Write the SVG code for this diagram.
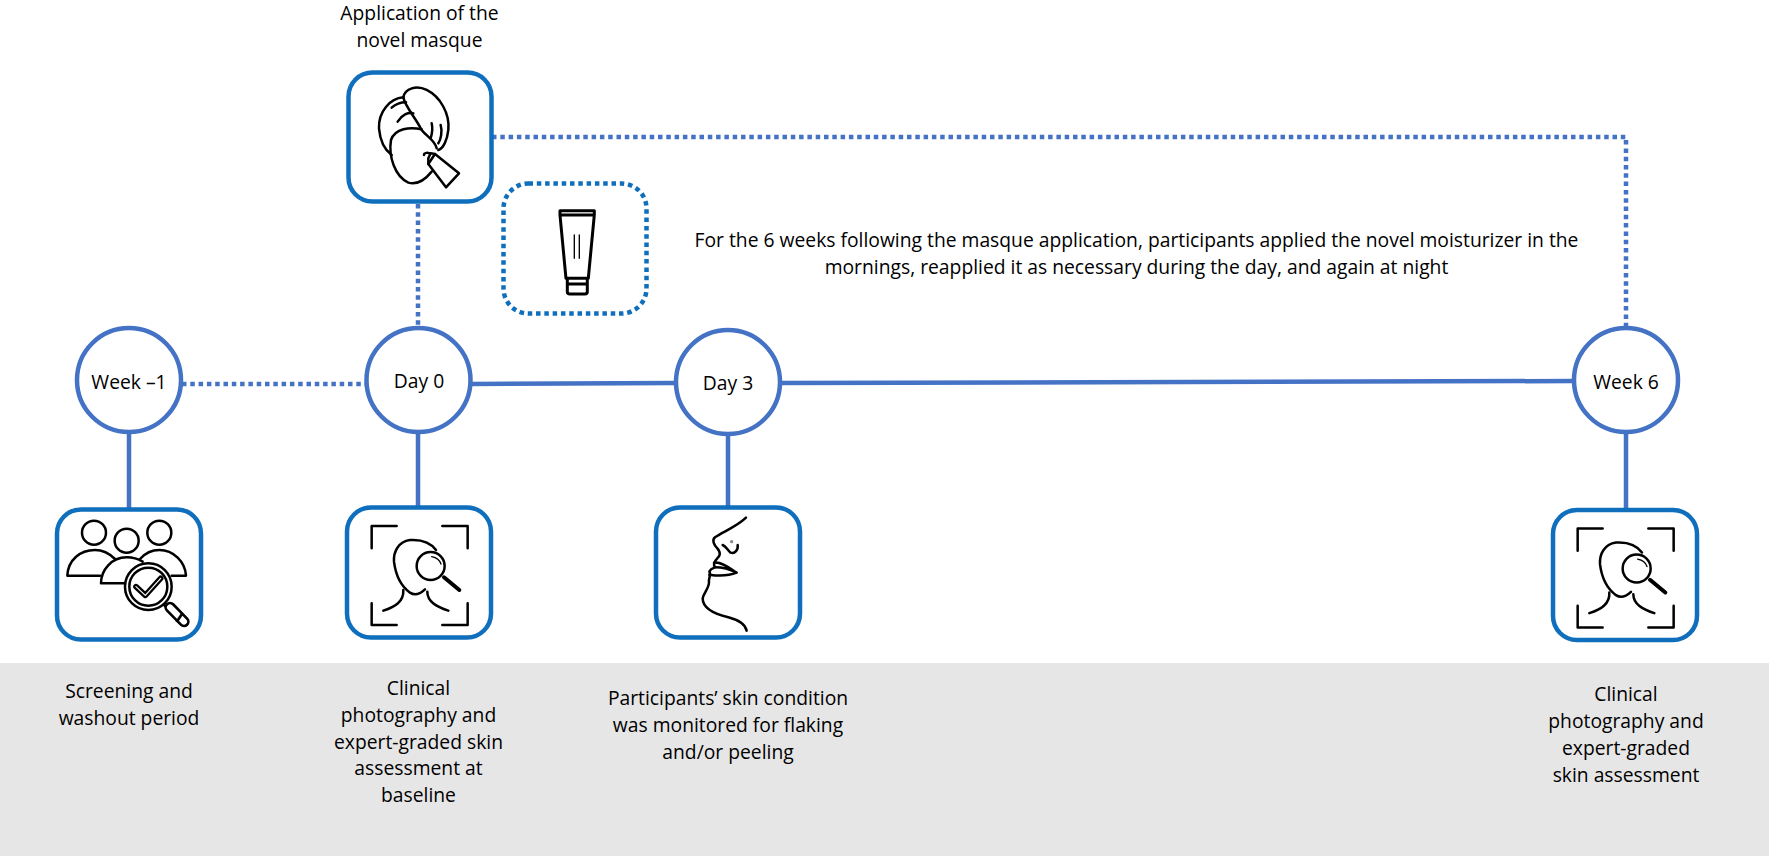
<svg xmlns="http://www.w3.org/2000/svg" xmlns:xlink="http://www.w3.org/1999/xlink" width="1769" height="856" viewBox="0 0 1769 856">
<style>
text{font-family:"Open Sans","Noto Sans","Liberation Sans",sans-serif;font-size:19.3px;fill:#000;text-anchor:middle}
.c{fill:#fff;stroke:#4472c4;stroke-width:4.5}
.b{fill:#fff;stroke:#0f6fbd;stroke-width:4.5}
.s{fill:none;stroke:#4472c4;stroke-width:4.5}
.d{fill:none;stroke:#4472c4;stroke-width:4.5;stroke-dasharray:4.5 3.8}
.i{fill:none;stroke:#000;stroke-width:7.5;stroke-linecap:round;stroke-linejoin:round}
.t{stroke-width:9}
</style>
<defs>
<g id="face-icon">
<path class="i" stroke-linecap="butt" d="M125,175V108H200M337,108H413V175M125,340V405H200M337,405H413V340"/>
<path class="i" d="M318,180C300,155 270,148 240,150C205,155 190,185 192,215C197,255 215,290 240,308C255,318 270,312 285,298"/>
<path class="i" d="M220,300C222,335 195,350 160,362M292,305C292,335 320,350 355,362"/>
<circle class="i" cx="302" cy="228" r="42"/>
<path class="i" style="stroke-width:4" d="M305,200C320,203 330,212 333,222"/>
<path class="i" style="stroke-width:12" d="M342,262L388,300"/>
</g>
</defs>
<rect id="band" x="0" y="663" width="1769" height="193" fill="#e7e6e6"/>
<g id="connectors">
<path class="d" d="M182,384H366"/>
<path class="s" d="M470,384L676,383M780,383L1575,381"/>
<path class="d" d="M418,204V326"/>
<path class="d" d="M492,137H1626V328"/>
<path class="s" d="M129,434V509M418,433V507M728,435V507M1626,433V510"/>
</g>
<g id="node-week-minus-1"><circle class="c" cx="129" cy="380" r="52"/><text x="129" y="389">Week –1</text></g>
<g id="node-day-0"><circle class="c" cx="418.500" cy="380" r="52"/><text x="419" y="388">Day 0</text></g>
<g id="node-day-3"><circle class="c" cx="728" cy="382" r="52"/><text x="728" y="390">Day 3</text></g>
<g id="node-week-6"><circle class="c" cx="1626" cy="380" r="52"/><text x="1626" y="389">Week 6</text></g>
<g id="node-masque">
<rect class="b" x="348.500" y="72.500" width="143" height="129" rx="24"/>
<g transform="translate(320 0) scale(.3333)">
<path class="i" d="M250,292C255,265 290,255 320,270C360,290 390,340 385,390C382,420 370,445 355,450"/>
<path class="i" d="M250,292C210,295 175,335 177,385C180,420 195,450 215,465"/>
<path class="i" d="M250,292C255,320 285,350 305,390C320,410 345,420 350,445"/>
<path class="i" d="M305,388C270,380 225,385 213,420C205,470 225,530 265,548C290,555 315,540 335,515"/>
<path class="i" d="M215,323C230,310 245,307 258,307M233,365C245,345 265,335 280,340M335,370C340,390 335,405 332,415M362,375C368,395 362,420 355,430"/>
<path class="i" fill="#fff" d="M345,462L417,520L378,562L325,492Z"/>
<path class="i" d="M345,462L332,460L325,475L325,492M312,465C312,458 325,456 330,462"/>
</g>
<text x="419.500" y="20">Application of the</text><text x="419.500" y="46.500">novel masque</text>
</g>
<g id="node-moisturizer">
<rect x="503.500" y="183.500" width="143" height="130" rx="25" fill="#fff" stroke="#0f6fbd" stroke-width="4.5" stroke-dasharray="4.500 3.800"/>
<g transform="translate(320 0) scale(.3333)">
<path class="i t" d="M720,632H823V645H720ZM720,645L738,835H805L823,645M742,835V875Q742,882 750,882H795Q802,882 802,875V835M742,852H802"/>
<path class="i" stroke-linecap="butt" style="stroke-width:4" d="M763,705V775M778,705V775"/>
</g>
</g>
<g id="node-screening">
<rect class="b" x="57" y="509.500" width="144" height="130" rx="24"/>
<g transform="translate(40 490) scale(.3333)">
<circle class="i" cx="162" cy="128" r="36"/><circle class="i" cx="260" cy="152" r="36"/><circle class="i" cx="358" cy="128" r="36"/>
<path class="i" d="M225,207C210,192 190,180 165,180C120,180 84,210 82,257H180M300,207C315,190 335,180 358,180C400,180 436,215 438,257H395"/>
<path class="i" d="M255,280H183C183,240 215,202 260,202C280,202 295,207 308,215"/>
<circle class="i" cx="325" cy="290" r="70"/><circle class="i" cx="325" cy="290" r="57"/>
<path d="M288,290L316,316L362,265" fill="none" stroke="#000" stroke-width="17" stroke-linecap="round" stroke-linejoin="round"/>
<path d="M288,290L316,316L362,265" fill="none" stroke="#fff" stroke-width="3.500" stroke-linecap="round" stroke-linejoin="round"/>
<path class="i" d="M372,345L388,362"/>
<path d="M390,352L432,395" fill="none" stroke="#000" stroke-width="34" stroke-linecap="round"/>
<path d="M390,352L432,395" fill="none" stroke="#fff" stroke-width="18" stroke-linecap="round"/>
<path d="M426,372L410,396" stroke="#000" stroke-width="8"/>
</g>
<text x="129" y="698">Screening and</text><text x="129" y="725">washout period</text>
</g>
<g id="node-baseline">
<rect class="b" x="347" y="507.500" width="144" height="130" rx="24"/>
<use xlink:href="#face-icon" href="#face-icon" transform="translate(330 490) scale(.3333)"/>
<text x="418.500" y="695">Clinical</text><text x="418.500" y="722">photography and</text><text x="418.500" y="749">expert-graded skin</text><text x="418.500" y="775">assessment at</text><text x="418.500" y="802">baseline</text>
</g>
<g id="node-monitor">
<rect class="b" x="656" y="507.500" width="144" height="130" rx="24"/>
<g transform="translate(640 490) scale(.3333)">
<path class="i" d="M318,83C290,110 250,125 225,142C215,150 222,165 232,175C245,190 238,200 232,205C222,215 220,225 225,232C215,235 210,240 208,245C215,252 205,265 207,275C208,295 190,310 188,325C188,360 235,375 265,382C295,390 315,400 320,422"/>
<path class="i" d="M225,232C245,232 270,238 290,248C265,258 235,258 208,254M222,218C245,215 270,235 290,248"/>
<path class="i" d="M248,165C260,170 262,180 272,188C285,192 295,180 293,165"/>
<circle cx="275" cy="155" r="5" fill="#888"/>
</g>
<text x="728" y="705">Participants’ skin condition</text><text x="728" y="732">was monitored for flaking</text><text x="728" y="759">and/or peeling</text>
</g>
<g id="node-week-6-assessment">
<rect class="b" x="1553" y="510" width="144" height="130" rx="24"/>
<use xlink:href="#face-icon" href="#face-icon" transform="translate(1536 492.500) scale(.3333)"/>
<text x="1626" y="701">Clinical</text><text x="1626" y="728">photography and</text><text x="1626" y="755">expert-graded</text><text x="1626" y="782">skin assessment</text>
</g>
<g id="note"><text x="1136.500" y="247">For the 6 weeks following the masque application, participants applied the novel moisturizer in the</text><text x="1136.500" y="274">mornings, reapplied it as necessary during the day, and again at night</text></g>
</svg>
